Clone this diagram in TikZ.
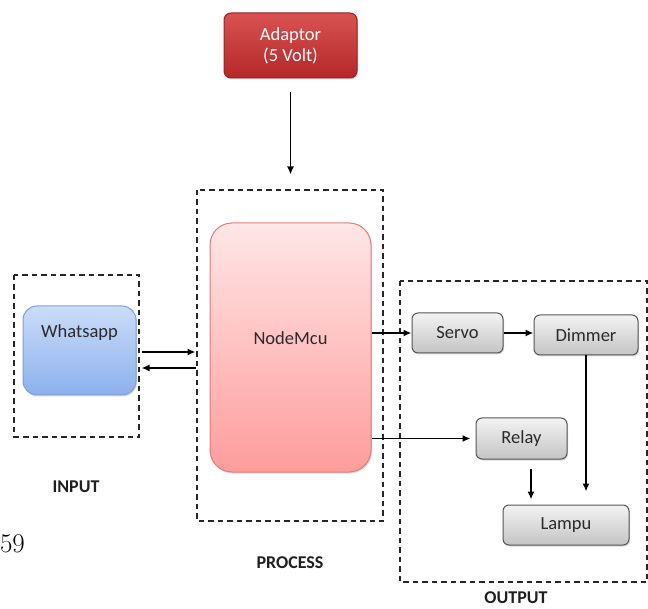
\documentclass[tikz,border=0pt]{standalone}
\usepackage{fontspec}
\newfontfamily\carlito{Carlito}
\usetikzlibrary{arrows.meta,shadows,calc}
\definecolor{adtop}{HTML}{D95252}
\definecolor{adbot}{HTML}{B42828}
\definecolor{adline}{HTML}{9E2020}
\definecolor{nmtop}{HTML}{FFE6E6}
\definecolor{nmbot}{HTML}{FF9C9C}
\definecolor{nmline}{HTML}{E07B7B}
\definecolor{watop}{HTML}{CBDDF8}
\definecolor{wabot}{HTML}{8CB0EE}
\definecolor{waline}{HTML}{7F9FD6}
\definecolor{grtop}{HTML}{F3F3F3}
\definecolor{grbot}{HTML}{C4C4C4}
\definecolor{grline}{HTML}{555555}
\definecolor{txt}{HTML}{2A2A2A}
\begin{document}
\begin{tikzpicture}[x=1pt,y=-1pt,
  every node/.style={font=\carlito\fontsize{18.5}{21}\selectfont},
  boxbase/.style={rectangle, draw, line width=1pt, inner sep=0pt,
    drop shadow={opacity=0.3, shadow xshift=1pt, shadow yshift=-1.5pt}},
  adbox/.style={boxbase, rounded corners=7pt, draw=adline, top color=adtop, bottom color=adbot,
    text=white, align=center},
  nmbox/.style={boxbase, rounded corners=22pt, draw=nmline, top color=nmtop, bottom color=nmbot, text=txt},
  wabox/.style={boxbase, rounded corners=14pt, draw=waline, top color=watop, bottom color=wabot, text=txt},
  grbox/.style={boxbase, rounded corners=6pt, draw=grline, top color=grtop, bottom color=grbot, text=txt},
  group/.style={draw=black!85, line width=1.7pt, dash pattern=on 5.5pt off 4pt},
  grouplabel/.style={font=\carlito\fontsize{18}{21}\selectfont\bfseries, text=black!88},
  arr/.style={-{Latex[length=8pt,width=7pt]}, line width=1.9pt, black}]
\useasboundingbox (0,0) rectangle (648,609);
% groups
\draw[group] (197,190) rectangle (383,521);
\draw[group] (14,275) rectangle (139,437);
\draw[group] (400,281) rectangle (647,582);
% nodes
\node[adbox, minimum width=133pt, minimum height=65pt] (adaptor) at (290.5,45.5) {Adaptor\\(5 Volt)};
\node[nmbox, minimum width=161pt, minimum height=249pt,
  label={[anchor=center, yshift=9.5pt, text=txt]center:NodeMcu}] (nodemcu) at (290.5,347.5) {};
\node[wabox, minimum width=113pt, minimum height=89pt,
  label={[anchor=center, yshift=17.5pt, text=txt]center:Whatsapp}] (whatsapp) at (79.5,350.5) {};
\node[grbox, minimum width=91pt, minimum height=40pt] (servo) at (457.5,333) {Servo};
\node[grbox, minimum width=104pt, minimum height=40pt] (dimmer) at (586,335) {Dimmer};
\node[grbox, minimum width=91pt, minimum height=41pt] (relay) at (521.5,438.5) {Relay};
\node[grbox, minimum width=126pt, minimum height=40pt] (lampu) at (566,525) {Lampu};
% labels
\node[grouplabel] (lin) at (76,487) {INPUT};
\node[grouplabel] (lpr) at (290,563) {PROCESS};
\node[grouplabel] (lout) at (516,598) {OUTPUT};
\node[font=\rmfamily\fontsize{27}{30}\selectfont, anchor=east, inner sep=0pt] (pg) at (25,544) {59};
% connectors
\draw[arr] ($(adaptor.south)+(0,14)$) -- ($(nodemcu.north)+(0,-48)$);
\draw[arr] ($(whatsapp.east)+(5,1.5)$) -- ($(nodemcu.west)+(-14,4.5)$);
\draw[arr] ($(nodemcu.west)+(-14,20.5)$) -- ($(whatsapp.east)+(5,17.5)$);
\draw[arr] (nodemcu.east |- servo.west) -- (servo.west);
\draw[arr] (servo.east) -- (servo.east -| dimmer.west);
\draw[arr] (nodemcu.east |- relay.west) -- ($(relay.west)+(-5,0)$);
\draw[arr] (dimmer.south) -- ($(dimmer.south |- lampu.north)+(0,-13)$);
\draw[arr] ($(relay.south)+(9.5,9)$) -- ($(relay.south |- lampu.north)+(9.5,-5)$);
\end{tikzpicture}
\end{document}
